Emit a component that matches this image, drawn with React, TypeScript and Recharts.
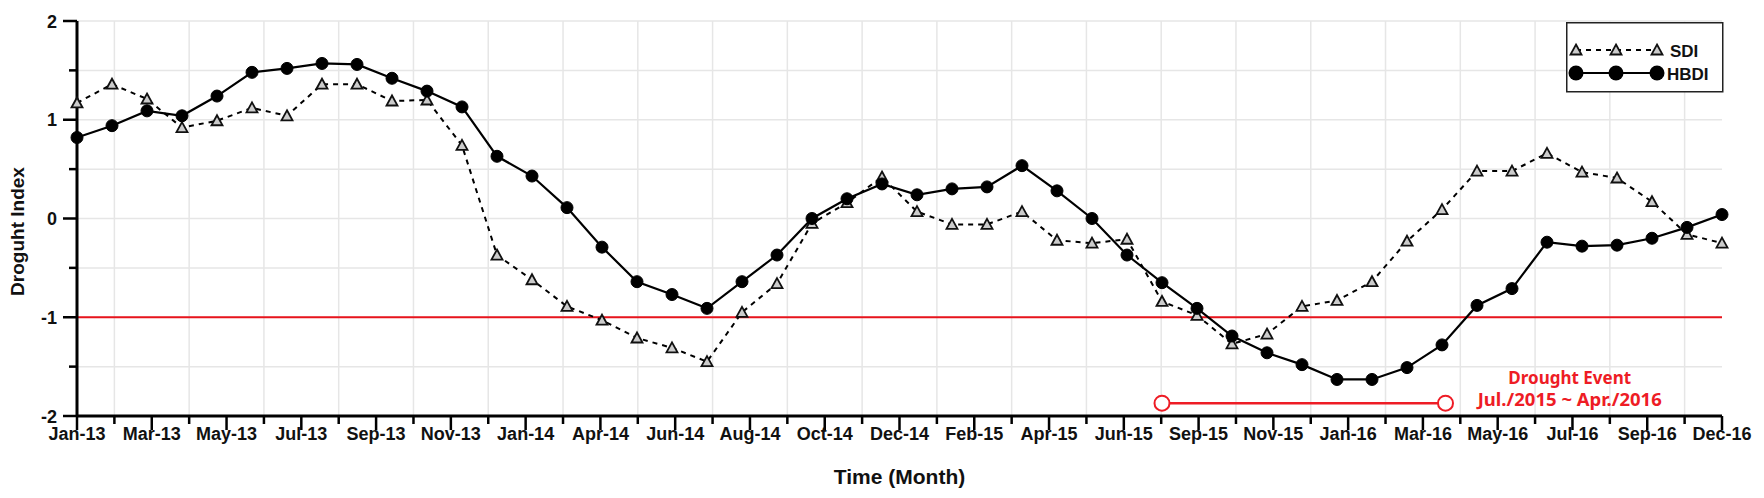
import React from 'react';
import {
  LineChart, Line, XAxis, YAxis, CartesianGrid, ReferenceLine, ReferenceDot, Legend,
} from 'recharts';

const months = [
  'Jan-13','Feb-13','Mar-13','Apr-13','May-13','Jun-13','Jul-13','Aug-13','Sep-13','Oct-13','Nov-13','Dec-13',
  'Jan-14','Feb-14','Mar-14','Apr-14','May-14','Jun-14','Jul-14','Aug-14','Sep-14','Oct-14','Nov-14','Dec-14',
  'Jan-15','Feb-15','Mar-15','Apr-15','May-15','Jun-15','Jul-15','Aug-15','Sep-15','Oct-15','Nov-15','Dec-15',
  'Jan-16','Feb-16','Mar-16','Apr-16','May-16','Jun-16','Jul-16','Aug-16','Sep-16','Oct-16','Nov-16','Dec-16',
];

const sdi = [
  1.17, 1.36, 1.21, 0.92, 0.99, 1.12, 1.04, 1.36, 1.36, 1.19, 1.20, 0.74,
  -0.37, -0.62, -0.89, -1.03, -1.21, -1.31, -1.45, -0.95, -0.66, -0.05, 0.16, 0.42,
  0.07, -0.06, -0.06, 0.07, -0.22, -0.25, -0.21, -0.84, -0.98, -1.27, -1.17, -0.89,
  -0.83, -0.64, -0.23, 0.09, 0.48, 0.48, 0.66, 0.47, 0.41, 0.17, -0.16, -0.25,
];

const hbdi = [
  0.82, 0.94, 1.09, 1.04, 1.24, 1.48, 1.52, 1.57, 1.56, 1.42, 1.29, 1.13,
  0.63, 0.43, 0.11, -0.29, -0.64, -0.77, -0.91, -0.64, -0.37, 0.0, 0.20, 0.35,
  0.24, 0.30, 0.32, 0.535, 0.28, 0.0, -0.37, -0.65, -0.91, -1.19, -1.36, -1.48,
  -1.63, -1.63, -1.51, -1.28, -0.88, -0.71, -0.24, -0.28, -0.27, -0.20, -0.09, 0.04,
];

const tickLabels = [
  'Jan-13','Mar-13','May-13','Jul-13','Sep-13','Nov-13','Jan-14','Apr-14','Jun-14','Aug-14','Oct-14','Dec-14',
  'Feb-15','Apr-15','Jun-15','Sep-15','Nov-15','Jan-16','Mar-16','May-16','Jul-16','Sep-16','Dec-16',
];

const yTicks = [-2, -1.5, -1, -0.5, 0, 0.5, 1, 1.5, 2];
const thresholdValue = -1;
const eventStart = 31;
const eventEnd = 39.1;
const eventLevel = -1.87;
const eventTextX = 42.65;
const eventTextY = -1.68;
const eventTitle = 'Drought Event';
const eventPeriod = 'Jul./2015 ~ Apr./2016';

const lastIndex = months.length - 1;
const step = lastIndex / (tickLabels.length - 1);
const xTicks: number[] = [];
for (let k = 0; k < tickLabels.length; k++) {
  xTicks.push(k * step);
  if (k < tickLabels.length - 1) xTicks.push((k + 0.5) * step);
}
const minorXTicks = xTicks.filter((_, i) => i % 2 === 1);

const data = months.map((m, i) => ({ i, month: m, SDI: sdi[i], HBDI: hbdi[i] }));

const FONT = '"Liberation Sans", Arial, Helvetica, sans-serif';
const EVENT_FONT = '"Noto Sans", "Noto Sans CJK KR", sans-serif';

const XTick = (props: any) => {
  const { x, y, index } = props;
  const major = index % 2 === 0;
  return (
    <g>
      <line x1={x} x2={x} y1={y} y2={y + (major ? 14 : 8)} stroke="#000" strokeWidth={2.5} />
      {major && (
        <text x={x} y={y + 24} textAnchor="middle" fontFamily={FONT} fontWeight="bold" fontSize={18} fill="#111">
          {tickLabels[index / 2]}
        </text>
      )}
    </g>
  );
};

const YTick = (props: any) => {
  const { x, y, payload } = props;
  const major = Number.isInteger(payload.value);
  return (
    <g>
      <line x1={x - (major ? 14 : 8)} x2={x} y1={y} y2={y} stroke="#000" strokeWidth={2.5} />
      {major && (
        <text x={x - 20} y={y + 6.5} textAnchor="end" fontFamily={FONT} fontWeight="bold" fontSize={18} fill="#111">
          {payload.value}
        </text>
      )}
    </g>
  );
};

const YTitle = (props: any) => {
  const vb = props.viewBox || {};
  const cy = (vb.y || 0) + (vb.height || 0) / 2 + 13;
  const cx = 24;
  return (
    <text
      x={cx}
      y={cy}
      transform={`rotate(-90 ${cx} ${cy})`}
      textAnchor="middle"
      fontFamily={FONT}
      fontWeight="bold"
      fontSize={19}
      fill="#111"
    >
      Droguht Index
    </text>
  );
};

const XTitle = (props: any) => {
  const vb = props.viewBox || {};
  const cx = (vb.x || 0) + (vb.width || 0) / 2;
  const y = (vb.y || 0) + 68;
  return (
    <text x={cx} y={y} textAnchor="middle" fontFamily={FONT} fontWeight="bold" fontSize={21} fill="#111">
      Time (Month)
    </text>
  );
};

const Triangle = (props: any) => {
  const { cx, cy } = props;
  if (cx == null || cy == null) return null;
  return (
    <path
      d={`M${cx},${cy - 5.5} L${cx + 5.5},${cy + 4.5} L${cx - 5.5},${cy + 4.5} Z`}
      fill="#cccccc"
      stroke="#111"
      strokeWidth={1.8}
    />
  );
};

const Circle = (props: any) => {
  const { cx, cy } = props;
  if (cx == null || cy == null) return null;
  return <circle cx={cx} cy={cy} r={6} fill="#000" stroke="#000" strokeWidth={1} />;
};

const LegendBox = () => (
  <svg width={158} height={71} style={{ display: 'block' }}>
    <rect x={0.75} y={0.75} width={156} height={69} fill="#fff" stroke="#222" strokeWidth={1.5} />
    <line x1={10} x2={91} y1={28} y2={28} stroke="#000" strokeWidth={2} strokeDasharray="5 5" />
    {[10, 50, 91].map((cx) => (
      <Triangle key={'t' + cx} cx={cx} cy={28} />
    ))}
    <text x={104} y={34.5} fontFamily={FONT} fontWeight="bold" fontSize={17} fill="#111">SDI</text>
    <line x1={10} x2={91} y1={51} y2={51} stroke="#000" strokeWidth={2} />
    {[10, 50, 91].map((cx) => (
      <circle key={'c' + cx} cx={cx} cy={51} r={7.5} fill="#000" />
    ))}
    <text x={101} y={57.5} fontFamily={FONT} fontWeight="bold" fontSize={17} fill="#111">HBDI</text>
  </svg>
);

const EventLabel = (props: any) => {
  const vb = props.viewBox || {};
  const cx = (vb.x || 0) + (vb.width || 0) / 2;
  const cy = (vb.y || 0) + (vb.height || 0) / 2;
  return (
    <g>
      <text x={cx} y={cy} textAnchor="middle" fontFamily={EVENT_FONT} fontWeight="bold" fontSize={17} fill="#ee1c25">
        {eventTitle}
      </text>
      <text x={cx} y={cy + 22} textAnchor="middle" fontFamily={EVENT_FONT} fontWeight="bold" fontSize={18.5} fill="#ee1c25">
        {eventPeriod}
      </text>
    </g>
  );
};

export default function App() {
  return (
    <div style={{ position: 'absolute', left: 0, top: 0, width: 1764, height: 498, background: '#fff' }}>
      <LineChart
        width={1764}
        height={498}
        data={data}
        margin={{ top: 21, right: 42, bottom: 22, left: 17 }}
      >
        <CartesianGrid
          stroke="#e6e6e6"
          strokeWidth={1.5}
          verticalCoordinatesGenerator={(p: any) =>
            minorXTicks.map((t) => p.offset.left + (t / lastIndex) * p.offset.width)
          }
        />
        <XAxis
          dataKey="i"
          type="number"
          domain={[0, lastIndex]}
          ticks={xTicks}
          interval={0}
          tickSize={0}
          tickMargin={0}
          tickLine={false}
          tick={<XTick />}
          axisLine={{ stroke: '#000', strokeWidth: 3 }}
          height={60}
          label={<XTitle />}
        />
        <XAxis
          xAxisId="top"
          orientation="top"
          type="number"
          domain={[0, lastIndex]}
          tick={false}
          tickLine={false}
          height={0}
          axisLine={{ stroke: '#000', strokeWidth: 3 }}
        />
        <YAxis
          type="number"
          domain={[-2, 2]}
          ticks={yTicks}
          interval={0}
          tickSize={0}
          tickMargin={0}
          tickLine={false}
          tick={<YTick />}
          axisLine={{ stroke: '#000', strokeWidth: 3 }}
          width={60}
          label={<YTitle />}
        />
        <YAxis
          yAxisId="right"
          orientation="right"
          type="number"
          domain={[-2, 2]}
          tick={false}
          tickLine={false}
          width={0}
          axisLine={{ stroke: '#000', strokeWidth: 3 }}
        />
        <ReferenceLine y={thresholdValue} stroke="#e8141c" strokeWidth={2} />
        <Line
          type="linear"
          dataKey="SDI"
          stroke="#000"
          strokeWidth={2}
          strokeDasharray="5 5"
          dot={<Triangle />}
          activeDot={false}
          isAnimationActive={false}
        />
        <Line
          type="linear"
          dataKey="HBDI"
          stroke="#000"
          strokeWidth={2.2}
          dot={<Circle />}
          activeDot={false}
          isAnimationActive={false}
        />
        <ReferenceLine
          segment={[{ x: eventStart, y: eventLevel }, { x: eventEnd, y: eventLevel }]}
          stroke="#ee1c25"
          strokeWidth={2.5}
        />
        <ReferenceDot x={eventStart} y={eventLevel} r={7.5} fill="#fff" stroke="#ee1c25" strokeWidth={2} />
        <ReferenceDot x={eventEnd} y={eventLevel} r={7.5} fill="#fff" stroke="#ee1c25" strokeWidth={2} />
        <ReferenceDot x={eventTextX} y={eventTextY} r={1} fill="none" stroke="none" label={<EventLabel />} />
        <Legend
          layout="vertical"
          align="center"
          verticalAlign="middle"
          content={() => <LegendBox />}
          wrapperStyle={{ left: 1566, top: 22, width: 158, height: 71 }}
        />
      </LineChart>
    </div>
  );
}
